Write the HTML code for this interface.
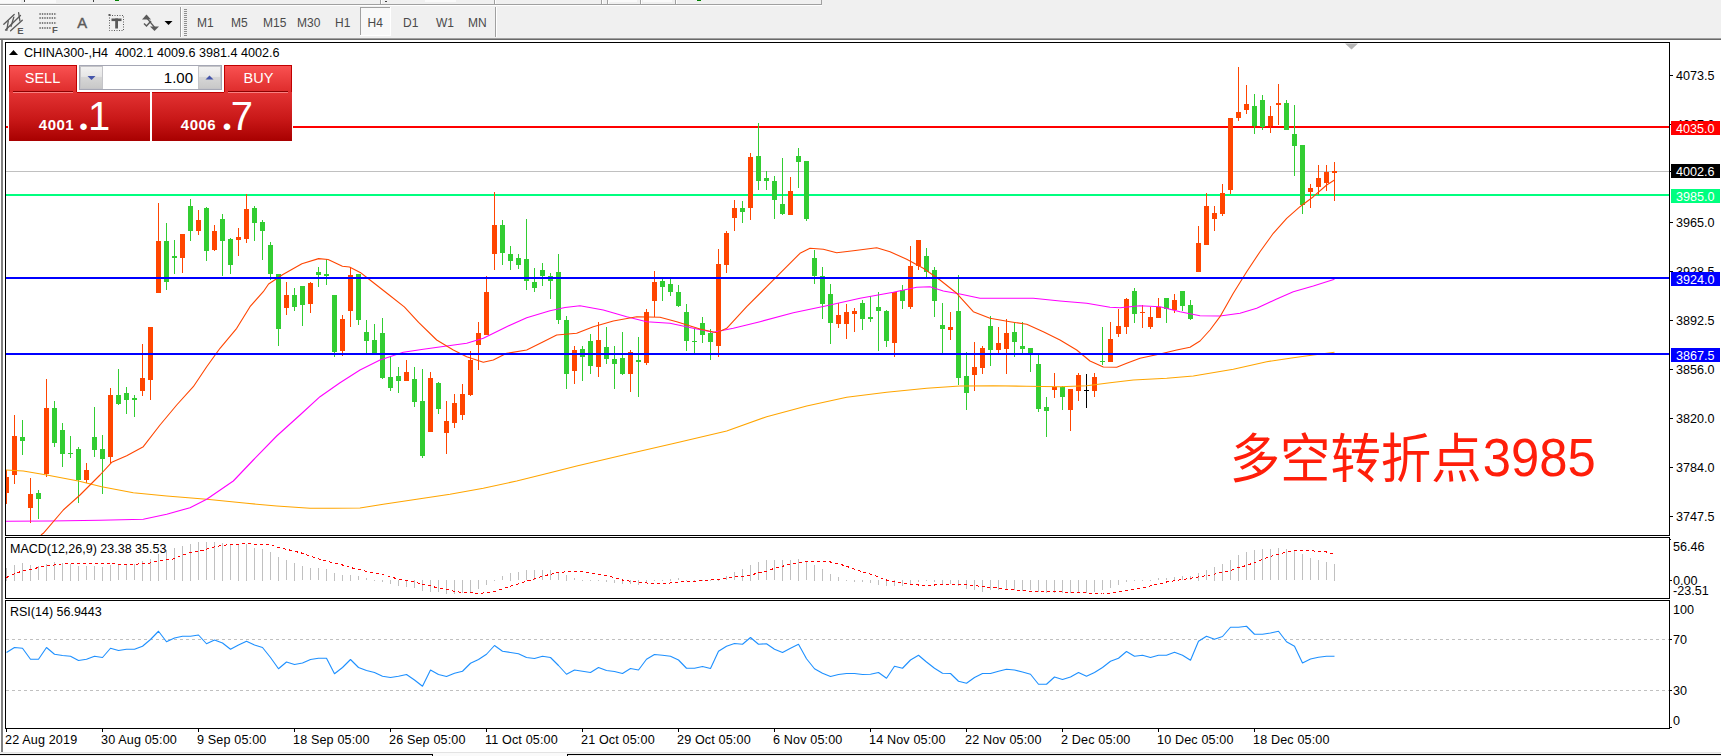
<!DOCTYPE html>
<html><head><meta charset="utf-8"><title>CHINA300 H4</title>
<style>
html,body{margin:0;padding:0;background:#fff;}
body{width:1721px;height:756px;overflow:hidden;position:relative;font-family:"Liberation Sans","Noto Sans CJK SC",sans-serif;}
svg{position:absolute;left:0;top:0;}
.t{position:absolute;white-space:nowrap;line-height:1.15;}
.b{position:absolute;left:1671px;width:49px;height:14px;color:#fff;font-size:12.6px;line-height:16px;text-indent:5px;white-space:nowrap;overflow:hidden;}
</style></head><body>
<svg width="1721" height="756" viewBox="0 0 1721 756">
<rect x="0" y="0" width="1721" height="40" fill="#F0F0F0"/>
<rect x="0" y="4" width="822" height="1" fill="#A0A0A0"/>
<rect x="0" y="5" width="822" height="1" fill="#FFFFFF"/>
<rect x="0" y="0" width="21" height="3" fill="#FAFAFA"/>
<rect x="24" y="0" width="32" height="3" fill="#FAFAFA"/>
<rect x="24" y="0" width="1" height="2" fill="#404040"/>
<rect x="93" y="0" width="1" height="2" fill="#404040"/>
<rect x="115" y="0" width="4" height="1" fill="#008000"/>
<rect x="380" y="0" width="1" height="4" fill="#A0A0A0"/>
<rect x="381" y="0" width="1" height="4" fill="#FFFFFF"/>
<rect x="494" y="0" width="1" height="4" fill="#A0A0A0"/>
<rect x="495" y="0" width="1" height="4" fill="#FFFFFF"/>
<rect x="601" y="0" width="1" height="4" fill="#A0A0A0"/>
<rect x="602" y="0" width="1" height="4" fill="#FFFFFF"/>
<rect x="607" y="0" width="1" height="4" fill="#A0A0A0"/>
<rect x="608" y="0" width="1" height="4" fill="#FFFFFF"/>
<rect x="640" y="0" width="1" height="4" fill="#A0A0A0"/>
<rect x="641" y="0" width="1" height="4" fill="#FFFFFF"/>
<rect x="675" y="0" width="1" height="4" fill="#A0A0A0"/>
<rect x="676" y="0" width="1" height="4" fill="#FFFFFF"/>
<rect x="425" y="0" width="31" height="2" fill="#FAFAFA"/>
<rect x="608" y="0" width="29" height="2" fill="#FAFAFA"/>
<rect x="643" y="0" width="29" height="2" fill="#FAFAFA"/>
<rect x="697" y="0" width="4" height="1" fill="#008000"/>
<rect x="385" y="1" width="2" height="1" fill="#404040"/>
<rect x="821" y="0" width="1" height="5" fill="#A0A0A0"/>
<rect x="0" y="38" width="1721" height="1" fill="#A0A0A0"/>
<rect x="0" y="39" width="1721" height="1" fill="#696969"/>
<rect x="1" y="40" width="2" height="712" fill="#808080"/>
<rect x="0" y="752" width="1721" height="1" fill="#E3E3E3"/>
<rect x="0" y="753" width="1721" height="3" fill="#F0F0F0"/>
<rect x="433" y="753" width="134" height="3" fill="#FAFAFA"/>
<rect x="0" y="754" width="432" height="1" fill="#000"/>
<rect x="567" y="754" width="1154" height="1" fill="#000"/>
<rect x="432" y="754" width="1" height="2" fill="#000"/>
<rect x="567" y="754" width="1" height="2" fill="#000"/>
<rect x="180" y="7" width="1" height="30" fill="#A0A0A0"/>
<rect x="181" y="7" width="1" height="30" fill="#FFFFFF"/>
<rect x="184" y="9" width="3" height="1" fill="#909090"/>
<rect x="184" y="11" width="3" height="1" fill="#909090"/>
<rect x="184" y="13" width="3" height="1" fill="#909090"/>
<rect x="184" y="15" width="3" height="1" fill="#909090"/>
<rect x="184" y="17" width="3" height="1" fill="#909090"/>
<rect x="184" y="19" width="3" height="1" fill="#909090"/>
<rect x="184" y="21" width="3" height="1" fill="#909090"/>
<rect x="184" y="23" width="3" height="1" fill="#909090"/>
<rect x="184" y="25" width="3" height="1" fill="#909090"/>
<rect x="184" y="27" width="3" height="1" fill="#909090"/>
<rect x="184" y="29" width="3" height="1" fill="#909090"/>
<rect x="184" y="31" width="3" height="1" fill="#909090"/>
<rect x="184" y="33" width="3" height="1" fill="#909090"/>
<rect x="184" y="35" width="3" height="1" fill="#909090"/>
<rect x="495" y="7" width="1" height="30" fill="#A0A0A0"/>
<rect x="496" y="7" width="1" height="30" fill="#FFFFFF"/>
<rect x="360" y="7" width="31" height="29" fill="#F8F8F8"/>
<rect x="360" y="7" width="31" height="1" fill="#A0A0A0"/>
<rect x="360" y="7" width="1" height="29" fill="#A0A0A0"/>
<rect x="390" y="7" width="1" height="29" fill="#FFFFFF"/>
<rect x="360" y="35" width="31" height="1" fill="#FFFFFF"/>
<g stroke="#5A5A5A" stroke-width="1.3" fill="none" stroke-linecap="round"><path d="M3.8 24.3 L14.2 14.5"/><path d="M5.5 30 L20.5 15.5"/><path d="M10.6 30.8 L22.3 20.2"/><path d="M8.3 20.8 L6.8 30.4"/><path d="M13.8 17.2 L11 26.5"/><path d="M18.6 12.6 L19.9 20.8"/></g>
<line x1="39.4" y1="14" x2="56.6" y2="14" stroke="#5A5A5A" stroke-width="1.6" stroke-dasharray="1.4 1.05"/>
<line x1="39.4" y1="18" x2="56.6" y2="18" stroke="#5A5A5A" stroke-width="1.6" stroke-dasharray="1.4 1.05"/>
<line x1="39.4" y1="23" x2="56.6" y2="23" stroke="#5A5A5A" stroke-width="1.6" stroke-dasharray="1.4 1.05"/>
<line x1="39.4" y1="28" x2="51.5" y2="28" stroke="#5A5A5A" stroke-width="1.6" stroke-dasharray="1.4 1.05"/>
<rect x="109.5" y="15.5" width="14" height="15" fill="none" stroke="#5A5A5A" stroke-width="1" stroke-dasharray="1 1.5"/>
<rect x="111.5" y="18.5" width="10" height="2.6" fill="#5A5A5A"/>
<rect x="115.2" y="18.5" width="2.8" height="10" fill="#5A5A5A"/>
<rect x="108.5" y="14" width="2" height="2" fill="#5A5A5A"/>
<path d="M142 19.5 L146.5 14.5 L151 19.5 Z" fill="#5A5A5A"/><path d="M150 26.5 L159 26.5 L154.5 31 Z" fill="#5A5A5A"/><path d="M144 23.5 L146.5 26 L151 21" stroke="#5A5A5A" stroke-width="1.5" fill="none"/><path d="M146 17 L155.5 28.5" stroke="#5A5A5A" stroke-width="1.2" fill="none"/>
<path d="M164.5 21 L172.5 21 L168.5 25 Z" fill="#000"/>
<g shape-rendering="crispEdges">
<rect x="5.5" y="42.5" width="1664" height="493" fill="#fff" stroke="#000" stroke-width="1"/>
<rect x="5.5" y="537.5" width="1664" height="61" fill="#fff" stroke="#000" stroke-width="1"/>
<rect x="5.5" y="600.5" width="1664" height="128" fill="#fff" stroke="#000" stroke-width="1"/>
</g>
<defs><clipPath id="cm"><rect x="6" y="43" width="1663" height="492"/></clipPath><linearGradient id="gs" x1="0" y1="0" x2="0" y2="1"><stop offset="0" stop-color="#FA5252"/><stop offset="1" stop-color="#DE2C2C"/></linearGradient><linearGradient id="gb" x1="0" y1="0" x2="0" y2="1"><stop offset="0" stop-color="#E33333"/><stop offset="0.55" stop-color="#C91818"/><stop offset="1" stop-color="#A80000"/></linearGradient><linearGradient id="gbtn" x1="0" y1="0" x2="0" y2="1"><stop offset="0" stop-color="#F2F2F2"/><stop offset="0.45" stop-color="#E6E6E6"/><stop offset="0.5" stop-color="#D6D6D6"/><stop offset="1" stop-color="#C8C8C8"/></linearGradient></defs>
<g clip-path="url(#cm)" shape-rendering="crispEdges">
<rect x="6" y="171" width="1663" height="1" fill="#C0C0C0"/>
<rect x="6" y="126" width="1663" height="2" fill="#FF0000"/>
<rect x="6" y="194" width="1663" height="2" fill="#00FF7F"/>
<rect x="6" y="470" width="1" height="34" fill="#FF4500"/>
<rect x="4" y="477" width="5" height="16" fill="#FF4500"/>
<rect x="14" y="415" width="1" height="69" fill="#FF4500"/>
<rect x="12" y="436" width="5" height="39" fill="#FF4500"/>
<rect x="22" y="420" width="1" height="35" fill="#32CD32"/>
<rect x="20" y="437" width="5" height="4" fill="#32CD32"/>
<rect x="30" y="478" width="1" height="45" fill="#FF4500"/>
<rect x="28" y="494" width="5" height="14" fill="#FF4500"/>
<rect x="38" y="490" width="1" height="29" fill="#32CD32"/>
<rect x="36" y="493" width="5" height="6" fill="#32CD32"/>
<rect x="46" y="379" width="1" height="98" fill="#FF4500"/>
<rect x="44" y="408" width="5" height="66" fill="#FF4500"/>
<rect x="54" y="401" width="1" height="46" fill="#32CD32"/>
<rect x="52" y="408" width="5" height="35" fill="#32CD32"/>
<rect x="62" y="423" width="1" height="44" fill="#32CD32"/>
<rect x="60" y="430" width="5" height="24" fill="#32CD32"/>
<rect x="70" y="436" width="1" height="22" fill="#32CD32"/>
<rect x="68" y="453" width="5" height="1" fill="#32CD32"/>
<rect x="78" y="447" width="1" height="56" fill="#32CD32"/>
<rect x="76" y="449" width="5" height="31" fill="#32CD32"/>
<rect x="86" y="463" width="1" height="20" fill="#FF4500"/>
<rect x="84" y="470" width="5" height="10" fill="#FF4500"/>
<rect x="94" y="407" width="1" height="50" fill="#32CD32"/>
<rect x="92" y="437" width="5" height="13" fill="#32CD32"/>
<rect x="102" y="435" width="1" height="59" fill="#32CD32"/>
<rect x="100" y="449" width="5" height="10" fill="#32CD32"/>
<rect x="110" y="388" width="1" height="75" fill="#FF4500"/>
<rect x="108" y="395" width="5" height="62" fill="#FF4500"/>
<rect x="118" y="369" width="1" height="36" fill="#32CD32"/>
<rect x="116" y="395" width="5" height="9" fill="#32CD32"/>
<rect x="126" y="387" width="1" height="27" fill="#32CD32"/>
<rect x="124" y="393" width="5" height="7" fill="#32CD32"/>
<rect x="134" y="395" width="1" height="22" fill="#32CD32"/>
<rect x="132" y="398" width="5" height="2" fill="#32CD32"/>
<rect x="142" y="344" width="1" height="52" fill="#FF4500"/>
<rect x="140" y="378" width="5" height="13" fill="#FF4500"/>
<rect x="150" y="327" width="1" height="73" fill="#FF4500"/>
<rect x="148" y="327" width="5" height="53" fill="#FF4500"/>
<rect x="158" y="203" width="1" height="90" fill="#FF4500"/>
<rect x="156" y="241" width="5" height="52" fill="#FF4500"/>
<rect x="166" y="223" width="1" height="67" fill="#32CD32"/>
<rect x="164" y="241" width="5" height="41" fill="#32CD32"/>
<rect x="174" y="240" width="1" height="34" fill="#32CD32"/>
<rect x="172" y="256" width="5" height="2" fill="#32CD32"/>
<rect x="182" y="234" width="1" height="39" fill="#FF4500"/>
<rect x="180" y="234" width="5" height="24" fill="#FF4500"/>
<rect x="190" y="199" width="1" height="42" fill="#32CD32"/>
<rect x="188" y="206" width="5" height="25" fill="#32CD32"/>
<rect x="198" y="210" width="1" height="25" fill="#FF4500"/>
<rect x="196" y="220" width="5" height="11" fill="#FF4500"/>
<rect x="206" y="207" width="1" height="54" fill="#32CD32"/>
<rect x="204" y="208" width="5" height="43" fill="#32CD32"/>
<rect x="214" y="225" width="1" height="26" fill="#FF4500"/>
<rect x="212" y="231" width="5" height="19" fill="#FF4500"/>
<rect x="222" y="214" width="1" height="62" fill="#32CD32"/>
<rect x="220" y="219" width="5" height="22" fill="#32CD32"/>
<rect x="230" y="238" width="1" height="36" fill="#32CD32"/>
<rect x="228" y="239" width="5" height="26" fill="#32CD32"/>
<rect x="238" y="228" width="1" height="28" fill="#FF4500"/>
<rect x="236" y="237" width="5" height="3" fill="#FF4500"/>
<rect x="246" y="194" width="1" height="49" fill="#FF4500"/>
<rect x="244" y="209" width="5" height="30" fill="#FF4500"/>
<rect x="254" y="206" width="1" height="35" fill="#32CD32"/>
<rect x="252" y="208" width="5" height="15" fill="#32CD32"/>
<rect x="262" y="220" width="1" height="40" fill="#32CD32"/>
<rect x="260" y="222" width="5" height="9" fill="#32CD32"/>
<rect x="270" y="242" width="1" height="38" fill="#32CD32"/>
<rect x="268" y="245" width="5" height="29" fill="#32CD32"/>
<rect x="278" y="274" width="1" height="72" fill="#32CD32"/>
<rect x="276" y="274" width="5" height="55" fill="#32CD32"/>
<rect x="286" y="282" width="1" height="33" fill="#FF4500"/>
<rect x="284" y="295" width="5" height="13" fill="#FF4500"/>
<rect x="294" y="288" width="1" height="23" fill="#32CD32"/>
<rect x="292" y="295" width="5" height="12" fill="#32CD32"/>
<rect x="302" y="286" width="1" height="40" fill="#32CD32"/>
<rect x="300" y="286" width="5" height="19" fill="#32CD32"/>
<rect x="310" y="282" width="1" height="31" fill="#FF4500"/>
<rect x="308" y="283" width="5" height="21" fill="#FF4500"/>
<rect x="318" y="267" width="1" height="20" fill="#32CD32"/>
<rect x="316" y="272" width="5" height="3" fill="#32CD32"/>
<rect x="326" y="259" width="1" height="26" fill="#32CD32"/>
<rect x="324" y="274" width="5" height="2" fill="#32CD32"/>
<rect x="334" y="295" width="1" height="62" fill="#32CD32"/>
<rect x="332" y="295" width="5" height="57" fill="#32CD32"/>
<rect x="342" y="315" width="1" height="41" fill="#FF4500"/>
<rect x="340" y="319" width="5" height="32" fill="#FF4500"/>
<rect x="350" y="268" width="1" height="59" fill="#FF4500"/>
<rect x="348" y="275" width="5" height="36" fill="#FF4500"/>
<rect x="358" y="274" width="1" height="51" fill="#32CD32"/>
<rect x="356" y="274" width="5" height="46" fill="#32CD32"/>
<rect x="366" y="320" width="1" height="35" fill="#32CD32"/>
<rect x="364" y="332" width="5" height="9" fill="#32CD32"/>
<rect x="374" y="324" width="1" height="30" fill="#32CD32"/>
<rect x="372" y="340" width="5" height="14" fill="#32CD32"/>
<rect x="382" y="318" width="1" height="61" fill="#32CD32"/>
<rect x="380" y="333" width="5" height="45" fill="#32CD32"/>
<rect x="390" y="356" width="1" height="35" fill="#32CD32"/>
<rect x="388" y="377" width="5" height="11" fill="#32CD32"/>
<rect x="398" y="367" width="1" height="26" fill="#32CD32"/>
<rect x="396" y="376" width="5" height="5" fill="#32CD32"/>
<rect x="406" y="360" width="1" height="21" fill="#FF4500"/>
<rect x="404" y="372" width="5" height="9" fill="#FF4500"/>
<rect x="414" y="367" width="1" height="40" fill="#32CD32"/>
<rect x="412" y="379" width="5" height="23" fill="#32CD32"/>
<rect x="422" y="369" width="1" height="89" fill="#32CD32"/>
<rect x="420" y="401" width="5" height="55" fill="#32CD32"/>
<rect x="430" y="372" width="1" height="60" fill="#FF4500"/>
<rect x="428" y="378" width="5" height="54" fill="#FF4500"/>
<rect x="438" y="382" width="1" height="32" fill="#32CD32"/>
<rect x="436" y="383" width="5" height="26" fill="#32CD32"/>
<rect x="446" y="401" width="1" height="53" fill="#FF4500"/>
<rect x="444" y="421" width="5" height="12" fill="#FF4500"/>
<rect x="454" y="394" width="1" height="34" fill="#FF4500"/>
<rect x="452" y="403" width="5" height="20" fill="#FF4500"/>
<rect x="462" y="384" width="1" height="36" fill="#FF4500"/>
<rect x="460" y="394" width="5" height="21" fill="#FF4500"/>
<rect x="470" y="351" width="1" height="45" fill="#FF4500"/>
<rect x="468" y="360" width="5" height="35" fill="#FF4500"/>
<rect x="478" y="322" width="1" height="48" fill="#FF4500"/>
<rect x="476" y="333" width="5" height="12" fill="#FF4500"/>
<rect x="486" y="276" width="1" height="59" fill="#FF4500"/>
<rect x="484" y="292" width="5" height="43" fill="#FF4500"/>
<rect x="494" y="192" width="1" height="78" fill="#FF4500"/>
<rect x="492" y="225" width="5" height="29" fill="#FF4500"/>
<rect x="502" y="220" width="1" height="45" fill="#32CD32"/>
<rect x="500" y="225" width="5" height="28" fill="#32CD32"/>
<rect x="510" y="246" width="1" height="24" fill="#32CD32"/>
<rect x="508" y="254" width="5" height="7" fill="#32CD32"/>
<rect x="518" y="254" width="1" height="15" fill="#32CD32"/>
<rect x="516" y="258" width="5" height="7" fill="#32CD32"/>
<rect x="526" y="219" width="1" height="71" fill="#32CD32"/>
<rect x="524" y="259" width="5" height="22" fill="#32CD32"/>
<rect x="534" y="268" width="1" height="24" fill="#32CD32"/>
<rect x="532" y="282" width="5" height="6" fill="#32CD32"/>
<rect x="542" y="263" width="1" height="23" fill="#32CD32"/>
<rect x="540" y="270" width="5" height="6" fill="#32CD32"/>
<rect x="550" y="273" width="1" height="26" fill="#32CD32"/>
<rect x="548" y="276" width="5" height="5" fill="#32CD32"/>
<rect x="558" y="254" width="1" height="70" fill="#32CD32"/>
<rect x="556" y="272" width="5" height="48" fill="#32CD32"/>
<rect x="566" y="316" width="1" height="73" fill="#32CD32"/>
<rect x="564" y="320" width="5" height="54" fill="#32CD32"/>
<rect x="574" y="346" width="1" height="38" fill="#FF4500"/>
<rect x="572" y="350" width="5" height="21" fill="#FF4500"/>
<rect x="582" y="346" width="1" height="35" fill="#32CD32"/>
<rect x="580" y="349" width="5" height="8" fill="#32CD32"/>
<rect x="590" y="334" width="1" height="40" fill="#32CD32"/>
<rect x="588" y="341" width="5" height="25" fill="#32CD32"/>
<rect x="598" y="322" width="1" height="55" fill="#FF4500"/>
<rect x="596" y="340" width="5" height="27" fill="#FF4500"/>
<rect x="606" y="327" width="1" height="37" fill="#32CD32"/>
<rect x="604" y="347" width="5" height="12" fill="#32CD32"/>
<rect x="614" y="346" width="1" height="43" fill="#32CD32"/>
<rect x="612" y="359" width="5" height="5" fill="#32CD32"/>
<rect x="622" y="332" width="1" height="43" fill="#32CD32"/>
<rect x="620" y="358" width="5" height="16" fill="#32CD32"/>
<rect x="630" y="350" width="1" height="42" fill="#FF4500"/>
<rect x="628" y="352" width="5" height="22" fill="#FF4500"/>
<rect x="638" y="337" width="1" height="60" fill="#32CD32"/>
<rect x="636" y="360" width="5" height="2" fill="#32CD32"/>
<rect x="646" y="309" width="1" height="56" fill="#FF4500"/>
<rect x="644" y="312" width="5" height="51" fill="#FF4500"/>
<rect x="654" y="271" width="1" height="46" fill="#FF4500"/>
<rect x="652" y="282" width="5" height="19" fill="#FF4500"/>
<rect x="662" y="278" width="1" height="23" fill="#32CD32"/>
<rect x="660" y="281" width="5" height="6" fill="#32CD32"/>
<rect x="670" y="279" width="1" height="17" fill="#32CD32"/>
<rect x="668" y="284" width="5" height="8" fill="#32CD32"/>
<rect x="678" y="285" width="1" height="22" fill="#32CD32"/>
<rect x="676" y="292" width="5" height="14" fill="#32CD32"/>
<rect x="686" y="304" width="1" height="47" fill="#32CD32"/>
<rect x="684" y="312" width="5" height="29" fill="#32CD32"/>
<rect x="694" y="328" width="1" height="25" fill="#32CD32"/>
<rect x="692" y="341" width="5" height="1" fill="#32CD32"/>
<rect x="702" y="317" width="1" height="26" fill="#32CD32"/>
<rect x="700" y="323" width="5" height="12" fill="#32CD32"/>
<rect x="710" y="329" width="1" height="31" fill="#32CD32"/>
<rect x="708" y="333" width="5" height="9" fill="#32CD32"/>
<rect x="718" y="249" width="1" height="108" fill="#FF4500"/>
<rect x="716" y="264" width="5" height="82" fill="#FF4500"/>
<rect x="726" y="231" width="1" height="42" fill="#FF4500"/>
<rect x="724" y="233" width="5" height="32" fill="#FF4500"/>
<rect x="734" y="200" width="1" height="31" fill="#FF4500"/>
<rect x="732" y="208" width="5" height="10" fill="#FF4500"/>
<rect x="742" y="201" width="1" height="22" fill="#32CD32"/>
<rect x="740" y="208" width="5" height="4" fill="#32CD32"/>
<rect x="750" y="153" width="1" height="67" fill="#FF4500"/>
<rect x="748" y="157" width="5" height="51" fill="#FF4500"/>
<rect x="758" y="123" width="1" height="67" fill="#32CD32"/>
<rect x="756" y="156" width="5" height="25" fill="#32CD32"/>
<rect x="766" y="171" width="1" height="19" fill="#32CD32"/>
<rect x="764" y="178" width="5" height="3" fill="#32CD32"/>
<rect x="774" y="176" width="1" height="43" fill="#32CD32"/>
<rect x="772" y="181" width="5" height="19" fill="#32CD32"/>
<rect x="782" y="158" width="1" height="57" fill="#32CD32"/>
<rect x="780" y="204" width="5" height="10" fill="#32CD32"/>
<rect x="790" y="177" width="1" height="38" fill="#FF4500"/>
<rect x="788" y="191" width="5" height="24" fill="#FF4500"/>
<rect x="798" y="148" width="1" height="40" fill="#32CD32"/>
<rect x="796" y="156" width="5" height="6" fill="#32CD32"/>
<rect x="806" y="161" width="1" height="60" fill="#32CD32"/>
<rect x="804" y="161" width="5" height="58" fill="#32CD32"/>
<rect x="814" y="250" width="1" height="34" fill="#32CD32"/>
<rect x="812" y="258" width="5" height="18" fill="#32CD32"/>
<rect x="822" y="267" width="1" height="52" fill="#32CD32"/>
<rect x="820" y="276" width="5" height="28" fill="#32CD32"/>
<rect x="830" y="284" width="1" height="60" fill="#32CD32"/>
<rect x="828" y="294" width="5" height="29" fill="#32CD32"/>
<rect x="838" y="303" width="1" height="25" fill="#FF4500"/>
<rect x="836" y="315" width="5" height="9" fill="#FF4500"/>
<rect x="846" y="304" width="1" height="35" fill="#FF4500"/>
<rect x="844" y="312" width="5" height="12" fill="#FF4500"/>
<rect x="854" y="308" width="1" height="24" fill="#FF4500"/>
<rect x="852" y="311" width="5" height="3" fill="#FF4500"/>
<rect x="862" y="300" width="1" height="30" fill="#32CD32"/>
<rect x="860" y="303" width="5" height="16" fill="#32CD32"/>
<rect x="870" y="296" width="1" height="26" fill="#32CD32"/>
<rect x="868" y="317" width="5" height="2" fill="#32CD32"/>
<rect x="878" y="292" width="1" height="59" fill="#32CD32"/>
<rect x="876" y="307" width="5" height="4" fill="#32CD32"/>
<rect x="886" y="310" width="1" height="37" fill="#32CD32"/>
<rect x="884" y="311" width="5" height="30" fill="#32CD32"/>
<rect x="894" y="292" width="1" height="65" fill="#FF4500"/>
<rect x="892" y="292" width="5" height="51" fill="#FF4500"/>
<rect x="902" y="285" width="1" height="24" fill="#32CD32"/>
<rect x="900" y="290" width="5" height="11" fill="#32CD32"/>
<rect x="910" y="246" width="1" height="63" fill="#FF4500"/>
<rect x="908" y="266" width="5" height="41" fill="#FF4500"/>
<rect x="918" y="240" width="1" height="30" fill="#FF4500"/>
<rect x="916" y="240" width="5" height="26" fill="#FF4500"/>
<rect x="926" y="248" width="1" height="30" fill="#32CD32"/>
<rect x="924" y="256" width="5" height="16" fill="#32CD32"/>
<rect x="934" y="267" width="1" height="50" fill="#32CD32"/>
<rect x="932" y="270" width="5" height="31" fill="#32CD32"/>
<rect x="942" y="303" width="1" height="50" fill="#32CD32"/>
<rect x="940" y="325" width="5" height="4" fill="#32CD32"/>
<rect x="950" y="312" width="1" height="28" fill="#FF4500"/>
<rect x="948" y="327" width="5" height="3" fill="#FF4500"/>
<rect x="958" y="275" width="1" height="110" fill="#32CD32"/>
<rect x="956" y="311" width="5" height="67" fill="#32CD32"/>
<rect x="966" y="352" width="1" height="58" fill="#32CD32"/>
<rect x="964" y="376" width="5" height="17" fill="#32CD32"/>
<rect x="974" y="342" width="1" height="49" fill="#FF4500"/>
<rect x="972" y="367" width="5" height="8" fill="#FF4500"/>
<rect x="982" y="346" width="1" height="28" fill="#FF4500"/>
<rect x="980" y="348" width="5" height="20" fill="#FF4500"/>
<rect x="990" y="316" width="1" height="50" fill="#32CD32"/>
<rect x="988" y="326" width="5" height="24" fill="#32CD32"/>
<rect x="998" y="327" width="1" height="27" fill="#FF4500"/>
<rect x="996" y="343" width="5" height="7" fill="#FF4500"/>
<rect x="1006" y="319" width="1" height="55" fill="#FF4500"/>
<rect x="1004" y="333" width="5" height="16" fill="#FF4500"/>
<rect x="1014" y="323" width="1" height="34" fill="#32CD32"/>
<rect x="1012" y="332" width="5" height="10" fill="#32CD32"/>
<rect x="1022" y="322" width="1" height="33" fill="#32CD32"/>
<rect x="1020" y="346" width="5" height="3" fill="#32CD32"/>
<rect x="1030" y="348" width="1" height="24" fill="#32CD32"/>
<rect x="1028" y="348" width="5" height="7" fill="#32CD32"/>
<rect x="1038" y="353" width="1" height="59" fill="#32CD32"/>
<rect x="1036" y="364" width="5" height="45" fill="#32CD32"/>
<rect x="1046" y="397" width="1" height="40" fill="#32CD32"/>
<rect x="1044" y="407" width="5" height="4" fill="#32CD32"/>
<rect x="1054" y="373" width="1" height="25" fill="#FF4500"/>
<rect x="1052" y="387" width="5" height="3" fill="#FF4500"/>
<rect x="1062" y="386" width="1" height="24" fill="#32CD32"/>
<rect x="1060" y="387" width="5" height="10" fill="#32CD32"/>
<rect x="1070" y="389" width="1" height="42" fill="#FF4500"/>
<rect x="1068" y="389" width="5" height="21" fill="#FF4500"/>
<rect x="1078" y="373" width="1" height="28" fill="#FF4500"/>
<rect x="1076" y="375" width="5" height="16" fill="#FF4500"/>
<rect x="1086" y="374" width="1" height="34" fill="#000"/>
<rect x="1084" y="390" width="5" height="1" fill="#000"/>
<rect x="1094" y="373" width="1" height="24" fill="#FF4500"/>
<rect x="1092" y="377" width="5" height="14" fill="#FF4500"/>
<rect x="1102" y="327" width="1" height="38" fill="#32CD32"/>
<rect x="1100" y="361" width="5" height="1" fill="#32CD32"/>
<rect x="1110" y="322" width="1" height="40" fill="#FF4500"/>
<rect x="1108" y="339" width="5" height="23" fill="#FF4500"/>
<rect x="1118" y="309" width="1" height="28" fill="#FF4500"/>
<rect x="1116" y="326" width="5" height="8" fill="#FF4500"/>
<rect x="1126" y="298" width="1" height="36" fill="#FF4500"/>
<rect x="1124" y="299" width="5" height="28" fill="#FF4500"/>
<rect x="1134" y="288" width="1" height="35" fill="#32CD32"/>
<rect x="1132" y="291" width="5" height="23" fill="#32CD32"/>
<rect x="1142" y="305" width="1" height="23" fill="#FF4500"/>
<rect x="1140" y="312" width="5" height="1" fill="#FF4500"/>
<rect x="1150" y="307" width="1" height="22" fill="#FF4500"/>
<rect x="1148" y="317" width="5" height="10" fill="#FF4500"/>
<rect x="1158" y="298" width="1" height="20" fill="#FF4500"/>
<rect x="1156" y="307" width="5" height="11" fill="#FF4500"/>
<rect x="1166" y="298" width="1" height="25" fill="#32CD32"/>
<rect x="1164" y="298" width="5" height="11" fill="#32CD32"/>
<rect x="1174" y="294" width="1" height="19" fill="#FF4500"/>
<rect x="1172" y="300" width="5" height="10" fill="#FF4500"/>
<rect x="1182" y="291" width="1" height="20" fill="#32CD32"/>
<rect x="1180" y="291" width="5" height="15" fill="#32CD32"/>
<rect x="1190" y="300" width="1" height="20" fill="#32CD32"/>
<rect x="1188" y="305" width="5" height="14" fill="#32CD32"/>
<rect x="1198" y="226" width="1" height="46" fill="#FF4500"/>
<rect x="1196" y="243" width="5" height="29" fill="#FF4500"/>
<rect x="1206" y="193" width="1" height="52" fill="#FF4500"/>
<rect x="1204" y="206" width="5" height="39" fill="#FF4500"/>
<rect x="1214" y="206" width="1" height="25" fill="#FF4500"/>
<rect x="1212" y="213" width="5" height="6" fill="#FF4500"/>
<rect x="1222" y="184" width="1" height="32" fill="#FF4500"/>
<rect x="1220" y="193" width="5" height="21" fill="#FF4500"/>
<rect x="1230" y="118" width="1" height="76" fill="#FF4500"/>
<rect x="1228" y="118" width="5" height="72" fill="#FF4500"/>
<rect x="1238" y="67" width="1" height="54" fill="#FF4500"/>
<rect x="1236" y="112" width="5" height="6" fill="#FF4500"/>
<rect x="1246" y="85" width="1" height="29" fill="#FF4500"/>
<rect x="1244" y="104" width="5" height="6" fill="#FF4500"/>
<rect x="1254" y="94" width="1" height="40" fill="#32CD32"/>
<rect x="1252" y="106" width="5" height="20" fill="#32CD32"/>
<rect x="1262" y="95" width="1" height="35" fill="#32CD32"/>
<rect x="1260" y="100" width="5" height="27" fill="#32CD32"/>
<rect x="1270" y="106" width="1" height="27" fill="#FF4500"/>
<rect x="1268" y="116" width="5" height="10" fill="#FF4500"/>
<rect x="1278" y="84" width="1" height="41" fill="#FF4500"/>
<rect x="1276" y="103" width="5" height="2" fill="#FF4500"/>
<rect x="1286" y="100" width="1" height="30" fill="#32CD32"/>
<rect x="1284" y="103" width="5" height="27" fill="#32CD32"/>
<rect x="1294" y="105" width="1" height="71" fill="#32CD32"/>
<rect x="1292" y="134" width="5" height="12" fill="#32CD32"/>
<rect x="1302" y="145" width="1" height="69" fill="#32CD32"/>
<rect x="1300" y="145" width="5" height="60" fill="#32CD32"/>
<rect x="1310" y="184" width="1" height="24" fill="#FF4500"/>
<rect x="1308" y="188" width="5" height="4" fill="#FF4500"/>
<rect x="1318" y="165" width="1" height="30" fill="#FF4500"/>
<rect x="1316" y="178" width="5" height="9" fill="#FF4500"/>
<rect x="1326" y="165" width="1" height="26" fill="#FF4500"/>
<rect x="1324" y="172" width="5" height="11" fill="#FF4500"/>
<rect x="1334" y="162" width="1" height="39" fill="#FF4500"/>
<rect x="1332" y="171" width="5" height="2" fill="#FF4500"/>
</g>
<g clip-path="url(#cm)">
<polyline fill="none" stroke="#FFA500" stroke-width="1.1" points="6,470 23.3,471 46.7,475 78.3,481 101.7,486.7 133.3,492.7 166.7,496 206.7,499.3 246.7,503.3 276.7,506 310,508.3 333.3,508.3 360,508 383.3,504.3 416.7,499.3 450,494.3 483.3,488.3 516.7,481 550,472.7 576.7,466 626.7,454.3 676.7,442.7 726.7,431 766.7,416.7 806.7,406 846.7,397.3 886.7,392.3 926.7,388.3 960,386 993.3,385.7 1026.7,386.3 1060,386.7 1086.7,385.7 1110,382.7 1133.3,380 1166.7,378.3 1193.3,376 1233.3,369.3 1266.7,361.7 1293.3,357.7 1313.3,355 1334.5,352.3" stroke-linejoin="round"/>
<polyline fill="none" stroke="#FF00FF" stroke-width="1.1" points="6,521.3 50,521 100,520.3 143.3,519.3 166.7,514.3 190,507.7 206.7,499.3 233.3,481 253.3,460 276.7,436 300,415 320,396.7 340,382.7 360,370 380,360 403.3,352.3 423.3,349.3 446.7,346 466.7,343.3 483.3,338.3 506.7,326.7 526.7,317.7 550,310.7 565,307.5 580,305.7 603.3,310 626.7,316.7 646.7,321.7 670,323.3 693.3,328.3 713.3,332.3 733.3,328.3 760,321.7 793.3,312.7 826.7,305.7 860,298.3 893.3,292.3 916.7,287.3 930,286.7 943.3,291 960,294 980,298.3 1010,298.3 1033.3,298.3 1060,301 1086.7,303.3 1110,307.3 1120,307.7 1140,305.7 1160,306.7 1180,311.7 1200,315.7 1220,316 1240,313.3 1256.7,308.3 1276.7,299 1293.3,291.7 1313.3,286 1334.5,279.3" stroke-linejoin="round"/>
<polyline fill="none" stroke="#FF4500" stroke-width="1.1" points="41,535 43.3,533.3 63.3,510 80,495 100,475 111.7,462.3 126.7,455.7 143.3,446.7 160,425 176.7,405 193.3,386.7 206.7,366.7 220,348.3 236.7,328.3 250,306.7 263.3,291.7 268.6,284 282.9,274.5 301.9,263.8 318.6,258.6 328.1,259.5 342.4,266.2 349.5,267 360.2,272.4 371,280.7 387.6,293.8 404.3,306.9 418.6,322.4 436.7,340 453.3,350 466.7,356.7 483.3,362.3 493.3,360 506.7,353.3 526.7,350 543.3,341.7 556.7,335 576.7,333.3 593.3,326.7 613.3,321 636.7,316.7 660,317.3 676.7,321.7 700,329 716.7,332.7 726.7,328.3 746.7,306.7 766.7,286.7 786.7,266.7 800,253.3 810,248.3 823.3,249.3 836.7,252.7 853.3,250.7 876.7,247.7 890,251.7 906.7,259.3 923.3,268.3 940,280 956.7,293.3 973.3,311.7 990,318.3 1010,321.7 1026.7,324.3 1043.3,331.7 1060,340 1076.7,350 1090,361 1103.3,367 1116.7,367.3 1126.7,363.3 1140,358.3 1160,354 1176.7,350 1190,347.3 1200,341 1210,330 1220,316.7 1233.3,293.3 1246.7,271.7 1260,251.7 1273.3,233.3 1286.7,218.3 1300,206.7 1313.3,196.7 1326.7,185 1334.5,180" stroke-linejoin="round"/>
</g>
<g clip-path="url(#cm)" shape-rendering="crispEdges">
<rect x="6" y="277" width="1663" height="2" fill="#0000FF"/>
<rect x="6" y="353" width="1663" height="2" fill="#0000FF"/>
</g>
<path d="M1345 43.5 L1358 43.5 L1351.5 49.5 Z" fill="#B4B4B4"/>
<g shape-rendering="crispEdges">
<rect x="6" y="568" width="1" height="13" fill="#C0C0C0"/>
<rect x="14" y="565" width="1" height="16" fill="#C0C0C0"/>
<rect x="22" y="563" width="1" height="18" fill="#C0C0C0"/>
<rect x="30" y="565" width="1" height="16" fill="#C0C0C0"/>
<rect x="38" y="566" width="1" height="14" fill="#C0C0C0"/>
<rect x="46" y="564" width="1" height="17" fill="#C0C0C0"/>
<rect x="54" y="562" width="1" height="18" fill="#C0C0C0"/>
<rect x="62" y="563" width="1" height="18" fill="#C0C0C0"/>
<rect x="70" y="564" width="1" height="17" fill="#C0C0C0"/>
<rect x="78" y="566" width="1" height="15" fill="#C0C0C0"/>
<rect x="86" y="566" width="1" height="14" fill="#C0C0C0"/>
<rect x="94" y="566" width="1" height="14" fill="#C0C0C0"/>
<rect x="102" y="567" width="1" height="14" fill="#C0C0C0"/>
<rect x="110" y="565" width="1" height="16" fill="#C0C0C0"/>
<rect x="118" y="564" width="1" height="16" fill="#C0C0C0"/>
<rect x="126" y="564" width="1" height="16" fill="#C0C0C0"/>
<rect x="134" y="564" width="1" height="16" fill="#C0C0C0"/>
<rect x="142" y="561" width="1" height="20" fill="#C0C0C0"/>
<rect x="150" y="559" width="1" height="22" fill="#C0C0C0"/>
<rect x="158" y="554" width="1" height="27" fill="#C0C0C0"/>
<rect x="166" y="550" width="1" height="30" fill="#C0C0C0"/>
<rect x="174" y="548" width="1" height="32" fill="#C0C0C0"/>
<rect x="182" y="546" width="1" height="35" fill="#C0C0C0"/>
<rect x="190" y="544" width="1" height="37" fill="#C0C0C0"/>
<rect x="198" y="542" width="1" height="38" fill="#C0C0C0"/>
<rect x="206" y="542" width="1" height="38" fill="#C0C0C0"/>
<rect x="214" y="542" width="1" height="38" fill="#C0C0C0"/>
<rect x="222" y="543" width="1" height="38" fill="#C0C0C0"/>
<rect x="230" y="544" width="1" height="36" fill="#C0C0C0"/>
<rect x="238" y="545" width="1" height="36" fill="#C0C0C0"/>
<rect x="246" y="544" width="1" height="37" fill="#C0C0C0"/>
<rect x="254" y="548" width="1" height="32" fill="#C0C0C0"/>
<rect x="262" y="549" width="1" height="32" fill="#C0C0C0"/>
<rect x="270" y="552" width="1" height="28" fill="#C0C0C0"/>
<rect x="278" y="557" width="1" height="24" fill="#C0C0C0"/>
<rect x="286" y="560" width="1" height="20" fill="#C0C0C0"/>
<rect x="294" y="563" width="1" height="18" fill="#C0C0C0"/>
<rect x="302" y="566" width="1" height="14" fill="#C0C0C0"/>
<rect x="310" y="568" width="1" height="12" fill="#C0C0C0"/>
<rect x="318" y="568" width="1" height="12" fill="#C0C0C0"/>
<rect x="326" y="569" width="1" height="12" fill="#C0C0C0"/>
<rect x="334" y="573" width="1" height="8" fill="#C0C0C0"/>
<rect x="342" y="575" width="1" height="6" fill="#C0C0C0"/>
<rect x="350" y="575" width="1" height="6" fill="#C0C0C0"/>
<rect x="358" y="576" width="1" height="4" fill="#C0C0C0"/>
<rect x="366" y="578" width="1" height="2" fill="#C0C0C0"/>
<rect x="374" y="580" width="1" height="1" fill="#C0C0C0"/>
<rect x="382" y="580" width="1" height="2" fill="#C0C0C0"/>
<rect x="390" y="580" width="1" height="4" fill="#C0C0C0"/>
<rect x="398" y="580" width="1" height="6" fill="#C0C0C0"/>
<rect x="406" y="580" width="1" height="7" fill="#C0C0C0"/>
<rect x="414" y="580" width="1" height="8" fill="#C0C0C0"/>
<rect x="422" y="580" width="1" height="11" fill="#C0C0C0"/>
<rect x="430" y="580" width="1" height="12" fill="#C0C0C0"/>
<rect x="438" y="580" width="1" height="12" fill="#C0C0C0"/>
<rect x="446" y="580" width="1" height="14" fill="#C0C0C0"/>
<rect x="454" y="580" width="1" height="14" fill="#C0C0C0"/>
<rect x="462" y="580" width="1" height="13" fill="#C0C0C0"/>
<rect x="470" y="580" width="1" height="12" fill="#C0C0C0"/>
<rect x="478" y="580" width="1" height="9" fill="#C0C0C0"/>
<rect x="486" y="580" width="1" height="5" fill="#C0C0C0"/>
<rect x="494" y="580" width="1" height="1" fill="#C0C0C0"/>
<rect x="502" y="576" width="1" height="4" fill="#C0C0C0"/>
<rect x="510" y="573" width="1" height="8" fill="#C0C0C0"/>
<rect x="518" y="572" width="1" height="8" fill="#C0C0C0"/>
<rect x="526" y="570" width="1" height="10" fill="#C0C0C0"/>
<rect x="534" y="570" width="1" height="10" fill="#C0C0C0"/>
<rect x="542" y="570" width="1" height="10" fill="#C0C0C0"/>
<rect x="550" y="570" width="1" height="10" fill="#C0C0C0"/>
<rect x="558" y="572" width="1" height="8" fill="#C0C0C0"/>
<rect x="566" y="575" width="1" height="6" fill="#C0C0C0"/>
<rect x="574" y="578" width="1" height="2" fill="#C0C0C0"/>
<rect x="582" y="580" width="1" height="1" fill="#C0C0C0"/>
<rect x="590" y="580" width="1" height="1" fill="#C0C0C0"/>
<rect x="598" y="580" width="1" height="1" fill="#C0C0C0"/>
<rect x="606" y="580" width="1" height="2" fill="#C0C0C0"/>
<rect x="614" y="580" width="1" height="3" fill="#C0C0C0"/>
<rect x="622" y="580" width="1" height="4" fill="#C0C0C0"/>
<rect x="630" y="580" width="1" height="4" fill="#C0C0C0"/>
<rect x="638" y="580" width="1" height="5" fill="#C0C0C0"/>
<rect x="646" y="580" width="1" height="3" fill="#C0C0C0"/>
<rect x="654" y="580" width="1" height="1" fill="#C0C0C0"/>
<rect x="662" y="580" width="1" height="1" fill="#C0C0C0"/>
<rect x="670" y="579" width="1" height="2" fill="#C0C0C0"/>
<rect x="678" y="578" width="1" height="2" fill="#C0C0C0"/>
<rect x="686" y="580" width="1" height="1" fill="#C0C0C0"/>
<rect x="694" y="580" width="1" height="1" fill="#C0C0C0"/>
<rect x="702" y="580" width="1" height="1" fill="#C0C0C0"/>
<rect x="710" y="580" width="1" height="1" fill="#C0C0C0"/>
<rect x="718" y="580" width="1" height="1" fill="#C0C0C0"/>
<rect x="726" y="576" width="1" height="4" fill="#C0C0C0"/>
<rect x="734" y="572" width="1" height="8" fill="#C0C0C0"/>
<rect x="742" y="569" width="1" height="12" fill="#C0C0C0"/>
<rect x="750" y="565" width="1" height="16" fill="#C0C0C0"/>
<rect x="758" y="562" width="1" height="18" fill="#C0C0C0"/>
<rect x="766" y="560" width="1" height="20" fill="#C0C0C0"/>
<rect x="774" y="560" width="1" height="20" fill="#C0C0C0"/>
<rect x="782" y="560" width="1" height="21" fill="#C0C0C0"/>
<rect x="790" y="560" width="1" height="20" fill="#C0C0C0"/>
<rect x="798" y="559" width="1" height="22" fill="#C0C0C0"/>
<rect x="806" y="561" width="1" height="19" fill="#C0C0C0"/>
<rect x="814" y="565" width="1" height="16" fill="#C0C0C0"/>
<rect x="822" y="569" width="1" height="12" fill="#C0C0C0"/>
<rect x="830" y="574" width="1" height="7" fill="#C0C0C0"/>
<rect x="838" y="577" width="1" height="4" fill="#C0C0C0"/>
<rect x="846" y="580" width="1" height="1" fill="#C0C0C0"/>
<rect x="854" y="580" width="1" height="2" fill="#C0C0C0"/>
<rect x="862" y="580" width="1" height="2" fill="#C0C0C0"/>
<rect x="870" y="580" width="1" height="3" fill="#C0C0C0"/>
<rect x="878" y="580" width="1" height="5" fill="#C0C0C0"/>
<rect x="886" y="580" width="1" height="6" fill="#C0C0C0"/>
<rect x="894" y="580" width="1" height="6" fill="#C0C0C0"/>
<rect x="902" y="580" width="1" height="6" fill="#C0C0C0"/>
<rect x="910" y="580" width="1" height="4" fill="#C0C0C0"/>
<rect x="918" y="580" width="1" height="2" fill="#C0C0C0"/>
<rect x="926" y="580" width="1" height="1" fill="#C0C0C0"/>
<rect x="934" y="580" width="1" height="2" fill="#C0C0C0"/>
<rect x="942" y="580" width="1" height="4" fill="#C0C0C0"/>
<rect x="950" y="580" width="1" height="4" fill="#C0C0C0"/>
<rect x="958" y="580" width="1" height="6" fill="#C0C0C0"/>
<rect x="966" y="580" width="1" height="9" fill="#C0C0C0"/>
<rect x="974" y="580" width="1" height="10" fill="#C0C0C0"/>
<rect x="982" y="580" width="1" height="12" fill="#C0C0C0"/>
<rect x="990" y="580" width="1" height="10" fill="#C0C0C0"/>
<rect x="998" y="580" width="1" height="10" fill="#C0C0C0"/>
<rect x="1006" y="580" width="1" height="10" fill="#C0C0C0"/>
<rect x="1014" y="580" width="1" height="10" fill="#C0C0C0"/>
<rect x="1022" y="580" width="1" height="11" fill="#C0C0C0"/>
<rect x="1030" y="580" width="1" height="10" fill="#C0C0C0"/>
<rect x="1038" y="580" width="1" height="12" fill="#C0C0C0"/>
<rect x="1046" y="580" width="1" height="13" fill="#C0C0C0"/>
<rect x="1054" y="580" width="1" height="13" fill="#C0C0C0"/>
<rect x="1062" y="580" width="1" height="13" fill="#C0C0C0"/>
<rect x="1070" y="580" width="1" height="13" fill="#C0C0C0"/>
<rect x="1078" y="580" width="1" height="13" fill="#C0C0C0"/>
<rect x="1086" y="580" width="1" height="13" fill="#C0C0C0"/>
<rect x="1094" y="580" width="1" height="12" fill="#C0C0C0"/>
<rect x="1102" y="580" width="1" height="10" fill="#C0C0C0"/>
<rect x="1110" y="580" width="1" height="8" fill="#C0C0C0"/>
<rect x="1118" y="580" width="1" height="5" fill="#C0C0C0"/>
<rect x="1126" y="580" width="1" height="2" fill="#C0C0C0"/>
<rect x="1134" y="580" width="1" height="1" fill="#C0C0C0"/>
<rect x="1142" y="580" width="1" height="1" fill="#C0C0C0"/>
<rect x="1150" y="580" width="1" height="1" fill="#C0C0C0"/>
<rect x="1158" y="578" width="1" height="2" fill="#C0C0C0"/>
<rect x="1166" y="578" width="1" height="2" fill="#C0C0C0"/>
<rect x="1174" y="577" width="1" height="4" fill="#C0C0C0"/>
<rect x="1182" y="576" width="1" height="4" fill="#C0C0C0"/>
<rect x="1190" y="576" width="1" height="4" fill="#C0C0C0"/>
<rect x="1198" y="573" width="1" height="8" fill="#C0C0C0"/>
<rect x="1206" y="570" width="1" height="10" fill="#C0C0C0"/>
<rect x="1214" y="567" width="1" height="14" fill="#C0C0C0"/>
<rect x="1222" y="564" width="1" height="17" fill="#C0C0C0"/>
<rect x="1230" y="560" width="1" height="20" fill="#C0C0C0"/>
<rect x="1238" y="555" width="1" height="26" fill="#C0C0C0"/>
<rect x="1246" y="552" width="1" height="28" fill="#C0C0C0"/>
<rect x="1254" y="550" width="1" height="30" fill="#C0C0C0"/>
<rect x="1262" y="549" width="1" height="31" fill="#C0C0C0"/>
<rect x="1270" y="549" width="1" height="31" fill="#C0C0C0"/>
<rect x="1278" y="548" width="1" height="32" fill="#C0C0C0"/>
<rect x="1286" y="549" width="1" height="31" fill="#C0C0C0"/>
<rect x="1294" y="551" width="1" height="29" fill="#C0C0C0"/>
<rect x="1302" y="554" width="1" height="26" fill="#C0C0C0"/>
<rect x="1310" y="558" width="1" height="22" fill="#C0C0C0"/>
<rect x="1318" y="560" width="1" height="20" fill="#C0C0C0"/>
<rect x="1326" y="562" width="1" height="18" fill="#C0C0C0"/>
<rect x="1334" y="564" width="1" height="17" fill="#C0C0C0"/>
</g>
<polyline fill="none" stroke="#FF0000" stroke-width="1" points="6.5,577.5 14.5,573.75 22.5,571 30.5,569.5 38.5,567.5 46.5,566 54.5,565 62.5,563.75 70.5,563.25 87.5,563.25 110,563.25 118.5,564.5 135,564.25 150.5,563 158.5,560.75 166.5,560 174.5,558.75 182.5,555 190.5,552.5 198.5,551.25 206.5,549.25 214.5,546.75 222.5,545.5 230.5,544.5 238.5,544.5 246.5,543.25 254.5,544.25 262.5,544.5 270.5,545 278.5,547.5 286.5,549.25 294.5,551.25 302.5,553.25 310.5,556.25 318.5,558.75 326.5,561.25 334.5,563 342.5,565 350.5,567.5 358.5,569.5 366.5,571.25 374.5,573 382.5,574.5 390.5,576.75 398.5,579.25 406.5,580.5 414.5,582 422.5,584.25 430.5,585.75 438.5,588.25 446.5,589.5 454.5,591.25 462.5,592.5 470.5,592.5 478.5,593.75 486.5,592.5 494.5,591.75 502.5,588.75 510.5,586.25 518.5,583.75 526.5,581.25 534.5,578.75 542.5,576.25 550.5,574.25 558.5,572.5 566.5,571.75 574.5,571.5 582.5,572 590.5,573.25 598.5,574.5 606.5,575.75 614.5,577.5 622.5,580 630.5,581.25 638.5,582 646.5,583 654.5,583.25 662.5,583.25 670.5,583 678.5,582 686.5,581.75 694.5,581.25 702.5,580.5 710.5,580 718.5,579.5 726.5,578.25 734.5,577 742.5,576.25 750.5,575 758.5,573 766.5,571.25 774.5,568.25 782.5,566.25 790.5,564.25 798.5,562.5 806.5,561.25 814.5,561.25 822.5,561.25 830.5,562 838.5,563.75 846.5,566.25 854.5,569.25 862.5,572 870.5,574.25 878.5,577 886.5,580 894.5,582 902.5,583 910.5,584.25 918.5,585 926.5,585 934.5,585 942.5,584.25 950.5,584.25 958.5,584.25 966.5,585 974.5,585.5 982.5,586.75 990.5,587.5 998.5,588 1006.5,589.25 1014.5,590 1022.5,590.5 1030.5,591.25 1038.5,591.5 1046.5,591.75 1054.5,591.75 1062.5,592 1070.5,592.5 1078.5,592.75 1086.5,593 1094.5,593.25 1102.5,593 1110.5,593 1118.5,592 1126.5,590.75 1134.5,589.25 1142.5,588 1150.5,585.75 1158.5,584.25 1166.5,582 1174.5,580.75 1182.5,579.5 1190.5,578.25 1198.5,577 1206.5,575.5 1214.5,574.25 1222.5,572 1230.5,570.5 1238.5,567.5 1246.5,565.5 1254.5,562.5 1262.5,559.25 1270.5,556.25 1278.5,554.5 1286.5,552 1294.5,550.75 1302.5,550.5 1310.5,550.5 1318.5,551.75 1326.5,552 1334.5,554.25" stroke-dasharray="3 3" shape-rendering="crispEdges"/>
<g shape-rendering="crispEdges">
<line x1="6" y1="639.5" x2="1669" y2="639.5" stroke="#C0C0C0" stroke-width="1" stroke-dasharray="3 3"/>
<line x1="6" y1="690.5" x2="1669" y2="690.5" stroke="#C0C0C0" stroke-width="1" stroke-dasharray="3 3"/>
</g>
<polyline fill="none" stroke="#1E90FF" stroke-width="1.1" points="6.5,652.5 14.5,647.5 22.5,648.25 30.5,659.25 38.5,659.25 46.5,647.5 54.5,654.25 62.5,655.5 70.5,656.25 78.5,660.5 86.5,659.25 94.5,656.25 102.5,657.5 110.5,648.25 118.5,650.5 126.5,649.25 134.5,649.25 142.5,646.25 150.5,639.5 158.5,631.25 166.5,641.75 174.5,638 182.5,636.25 190.5,636.25 198.5,635 206.5,643.75 214.5,640 222.5,643 230.5,649.25 238.5,645 246.5,641.25 254.5,645 262.5,647.5 270.5,657.5 278.5,668.75 286.5,662 294.5,664.5 302.5,663 310.5,659.5 318.5,658.25 326.5,658.25 334.5,673.75 342.5,667.5 350.5,659.5 358.5,667.5 366.5,670.5 374.5,672.5 382.5,676.25 390.5,677.5 398.5,676.25 406.5,674.5 414.5,680 422.5,686.25 430.5,670 438.5,674.5 446.5,676.5 454.5,673.25 462.5,671.25 470.5,663.25 478.5,659.5 486.5,654.25 494.5,645.5 502.5,651.25 510.5,652.5 518.5,653.75 526.5,657.5 534.5,658.5 542.5,656.25 550.5,657.5 558.5,665.5 566.5,674.25 574.5,670 582.5,671.25 590.5,672.5 598.5,667.5 606.5,670.5 614.5,671.5 622.5,673.5 630.5,668.5 638.5,670 646.5,659.25 654.5,654.5 662.5,655.25 670.5,656.25 678.5,660 686.5,668.25 694.5,668.25 702.5,666.5 710.5,668.5 718.5,651.25 726.5,646.25 734.5,643.5 742.5,644.25 750.5,637.5 758.5,644.25 766.5,643.75 774.5,649.25 782.5,652.5 790.5,648.25 798.5,644.25 806.5,658.75 814.5,668.75 822.5,673.25 830.5,676.5 838.5,674.5 846.5,673.5 854.5,673.5 862.5,674.5 870.5,674.25 878.5,672.5 886.5,678.25 894.5,666.25 902.5,668.25 910.5,660 918.5,655.25 926.5,662 934.5,668.25 942.5,673.25 950.5,673.5 958.5,681.25 966.5,683.25 974.5,677.5 982.5,673.5 990.5,673.5 998.5,671.25 1006.5,669.25 1014.5,670 1022.5,672 1030.5,674.25 1038.5,684.25 1046.5,684.25 1054.5,677 1062.5,679.5 1070.5,677 1078.5,672.5 1086.5,676.25 1094.5,672.5 1102.5,667.5 1110.5,661.25 1118.5,658.25 1126.5,651.5 1134.5,656.25 1142.5,655.25 1150.5,657.5 1158.5,655.25 1166.5,655.25 1174.5,652.25 1182.5,655.25 1190.5,660.25 1198.5,641.25 1206.5,636.25 1214.5,639.25 1222.5,636.5 1230.5,627.25 1238.5,627.25 1246.5,626.25 1254.5,634.25 1262.5,634.25 1270.5,633 1278.5,631.25 1286.5,641.75 1294.5,646.25 1302.5,663 1310.5,659 1318.5,657.25 1326.5,656.25 1334.5,656.25" stroke-linejoin="round"/>
<g shape-rendering="crispEdges" fill="#000">
<rect x="1670" y="75" width="3" height="1" fill="#000"/>
<rect x="1670" y="124" width="3" height="1" fill="#000"/>
<rect x="1670" y="222" width="3" height="1" fill="#000"/>
<rect x="1670" y="271" width="3" height="1" fill="#000"/>
<rect x="1670" y="320" width="3" height="1" fill="#000"/>
<rect x="1670" y="369" width="3" height="1" fill="#000"/>
<rect x="1670" y="418" width="3" height="1" fill="#000"/>
<rect x="1670" y="467" width="3" height="1" fill="#000"/>
<rect x="1670" y="516" width="3" height="1" fill="#000"/>
<rect x="1670" y="580" width="2" height="1" fill="#000"/>
<rect x="1670" y="539" width="1" height="1" fill="#000"/>
<rect x="1670" y="639" width="2" height="1" fill="#000"/>
<rect x="1670" y="690" width="2" height="1" fill="#000"/>
<rect x="1670" y="727" width="2" height="1" fill="#000"/>
<rect x="1670" y="171" width="3" height="1" fill="#000"/>
<rect x="6" y="729" width="1" height="3" fill="#000"/>
<rect x="102" y="729" width="1" height="3" fill="#000"/>
<rect x="198" y="729" width="1" height="3" fill="#000"/>
<rect x="294" y="729" width="1" height="3" fill="#000"/>
<rect x="390" y="729" width="1" height="3" fill="#000"/>
<rect x="486" y="729" width="1" height="3" fill="#000"/>
<rect x="582" y="729" width="1" height="3" fill="#000"/>
<rect x="678" y="729" width="1" height="3" fill="#000"/>
<rect x="774" y="729" width="1" height="3" fill="#000"/>
<rect x="870" y="729" width="1" height="3" fill="#000"/>
<rect x="966" y="729" width="1" height="3" fill="#000"/>
<rect x="1062" y="729" width="1" height="3" fill="#000"/>
<rect x="1158" y="729" width="1" height="3" fill="#000"/>
<rect x="1254" y="729" width="1" height="3" fill="#000"/>
</g>
<g shape-rendering="crispEdges">
<rect x="8" y="64" width="285" height="78" fill="#FFFFFF"/>
<rect x="9" y="65" width="68" height="27" fill="url(#gs)"/>
<rect x="9" y="65" width="68" height="1" fill="#C00000"/>
<rect x="9" y="65" width="1" height="27" fill="#C00000"/>
<rect x="76" y="65" width="1" height="27" fill="#C00000"/>
<rect x="224" y="65" width="68" height="27" fill="url(#gs)"/>
<rect x="224" y="65" width="68" height="1" fill="#C00000"/>
<rect x="224" y="65" width="1" height="27" fill="#C00000"/>
<rect x="291" y="65" width="1" height="27" fill="#C00000"/>
<rect x="9" y="92" width="141" height="49" fill="url(#gb)"/>
<rect x="152" y="92" width="140" height="49" fill="url(#gb)"/>
<rect x="77" y="92" width="73" height="1" fill="#C00000"/>
<rect x="152" y="92" width="72" height="1" fill="#C00000"/>
<rect x="13" y="91" width="60" height="1" fill="#8B0000"/>
<rect x="13" y="92" width="60" height="1" fill="#F98080"/>
<rect x="228" y="91" width="60" height="1" fill="#8B0000"/>
<rect x="228" y="92" width="60" height="1" fill="#F98080"/>
<rect x="79.5" y="65.5" width="142" height="24" fill="#FFFFFF" stroke="#A5A7B4" stroke-width="1"/>
<rect x="80.5" y="66.5" width="22" height="22" fill="url(#gbtn)" stroke="#C4C4C8" stroke-width="1"/>
<rect x="198.5" y="66.5" width="22" height="22" fill="url(#gbtn)" stroke="#C4C4C8" stroke-width="1"/>
</g>
<path d="M87.5 76 L95.5 76 L91.5 80 Z" fill="#4455AA"/><path d="M205.5 79.5 L213.5 79.5 L209.5 75.5 Z" fill="#4455AA"/>
<path d="M9 55 L18 55 L13.5 50 Z" fill="#000"/>
</svg>
<div class="t " style="left:24px;top:46px;font-size:12.6px;color:#000;">CHINA300-,H4&nbsp; 4002.1 4009.6 3981.4 4002.6</div><div class="t " style="left:10px;top:542px;font-size:12.5px;color:#000;">MACD(12,26,9) 23.38 35.53</div><div class="t " style="left:10px;top:605px;font-size:12.5px;color:#000;">RSI(14) 56.9443</div><div class="t " style="left:1676px;top:69px;font-size:12.6px;color:#000;">4073.5</div><div class="t " style="left:1676px;top:118px;font-size:12.6px;color:#000;">4037.0</div><div class="t " style="left:1676px;top:216px;font-size:12.6px;color:#000;">3965.0</div><div class="t " style="left:1676px;top:265px;font-size:12.6px;color:#000;">3928.5</div><div class="t " style="left:1676px;top:314px;font-size:12.6px;color:#000;">3892.5</div><div class="t " style="left:1676px;top:363px;font-size:12.6px;color:#000;">3856.0</div><div class="t " style="left:1676px;top:412px;font-size:12.6px;color:#000;">3820.0</div><div class="t " style="left:1676px;top:461px;font-size:12.6px;color:#000;">3784.0</div><div class="t " style="left:1676px;top:510px;font-size:12.6px;color:#000;">3747.5</div><div class="t " style="left:1673px;top:540px;font-size:12.6px;color:#000;">56.46</div><div class="t " style="left:1673px;top:574px;font-size:12.6px;color:#000;">0.00</div><div class="t " style="left:1673px;top:584px;font-size:12.6px;color:#000;">-23.51</div><div class="t " style="left:1673px;top:603px;font-size:12.6px;color:#000;">100</div><div class="t " style="left:1673px;top:633px;font-size:12.6px;color:#000;">70</div><div class="t " style="left:1673px;top:684px;font-size:12.6px;color:#000;">30</div><div class="t " style="left:1673px;top:714px;font-size:12.6px;color:#000;">0</div><div class="t " style="left:5px;top:733px;font-size:12.6px;color:#000;letter-spacing:0.14px;">22 Aug 2019</div><div class="t " style="left:101px;top:733px;font-size:12.6px;color:#000;letter-spacing:0.14px;">30 Aug 05:00</div><div class="t " style="left:197px;top:733px;font-size:12.6px;color:#000;letter-spacing:0.14px;">9 Sep 05:00</div><div class="t " style="left:293px;top:733px;font-size:12.6px;color:#000;letter-spacing:0.14px;">18 Sep 05:00</div><div class="t " style="left:389px;top:733px;font-size:12.6px;color:#000;letter-spacing:0.14px;">26 Sep 05:00</div><div class="t " style="left:485px;top:733px;font-size:12.6px;color:#000;letter-spacing:0.14px;">11 Oct 05:00</div><div class="t " style="left:581px;top:733px;font-size:12.6px;color:#000;letter-spacing:0.14px;">21 Oct 05:00</div><div class="t " style="left:677px;top:733px;font-size:12.6px;color:#000;letter-spacing:0.14px;">29 Oct 05:00</div><div class="t " style="left:773px;top:733px;font-size:12.6px;color:#000;letter-spacing:0.14px;">6 Nov 05:00</div><div class="t " style="left:869px;top:733px;font-size:12.6px;color:#000;letter-spacing:0.14px;">14 Nov 05:00</div><div class="t " style="left:965px;top:733px;font-size:12.6px;color:#000;letter-spacing:0.14px;">22 Nov 05:00</div><div class="t " style="left:1061px;top:733px;font-size:12.6px;color:#000;letter-spacing:0.14px;">2 Dec 05:00</div><div class="t " style="left:1157px;top:733px;font-size:12.6px;color:#000;letter-spacing:0.14px;">10 Dec 05:00</div><div class="t " style="left:1253px;top:733px;font-size:12.6px;color:#000;letter-spacing:0.14px;">18 Dec 05:00</div><div class="b" style="top:121px;background:#FF0000">4035.0</div><div class="b" style="top:164px;background:#000000">4002.6</div><div class="b" style="top:189px;background:#00FF7F">3985.0</div><div class="b" style="top:272px;background:#0000FF">3924.0</div><div class="b" style="top:348px;background:#0000FF">3867.5</div><div class="t " style="left:197px;top:17px;font-size:12px;color:#4A4A4A;">M1</div><div class="t " style="left:231px;top:17px;font-size:12px;color:#4A4A4A;">M5</div><div class="t " style="left:263px;top:17px;font-size:12px;color:#4A4A4A;">M15</div><div class="t " style="left:297px;top:17px;font-size:12px;color:#4A4A4A;">M30</div><div class="t " style="left:335px;top:17px;font-size:12px;color:#4A4A4A;">H1</div><div class="t " style="left:367.5px;top:17px;font-size:12px;color:#4A4A4A;">H4</div><div class="t " style="left:403px;top:17px;font-size:12px;color:#4A4A4A;">D1</div><div class="t " style="left:436px;top:17px;font-size:12px;color:#4A4A4A;">W1</div><div class="t " style="left:468px;top:17px;font-size:12px;color:#4A4A4A;">MN</div><div class="t " style="left:77.2px;top:14.8px;font-size:14.8px;color:#5A5A5A;-webkit-text-stroke:0.4px #5A5A5A;">A</div><div class="t " style="left:17.3px;top:25.7px;font-size:9.5px;color:#5A5A5A;font-weight:bold;">E</div><div class="t " style="left:52px;top:25.2px;font-size:9.5px;color:#5A5A5A;font-weight:bold;">F</div><div class="t " style="left:9px;top:70px;font-size:14.5px;color:#fff;width:67px;text-align:center;">SELL</div><div class="t " style="left:225px;top:70px;font-size:14.5px;color:#fff;width:67px;text-align:center;">BUY</div><div class="t " style="left:102px;top:69px;font-size:15px;color:#000;width:91px;text-align:right;">1.00</div><div class="t " style="left:38.8px;top:116px;font-size:15px;color:#fff;font-weight:bold;letter-spacing:0.5px;">4001</div><div class="t " style="left:180.8px;top:116px;font-size:15px;color:#fff;font-weight:bold;letter-spacing:0.5px;">4006</div><div class="t " style="left:78.5px;top:94px;font-size:40px;color:#fff;font-weight:bold;font-family:'Liberation Serif',serif;">.</div><div class="t " style="left:222px;top:94px;font-size:40px;color:#fff;font-weight:bold;font-family:'Liberation Serif',serif;">.</div><div class="t " style="left:88px;top:93px;font-size:40px;color:#fff;">1</div><div class="t " style="left:230.7px;top:93px;font-size:40px;color:#fff;">7</div><div class="t" style="left:1229.7px;top:431.3px;font-size:50.4px;color:#FF1E0A;transform:scaleY(1.05);transform-origin:50% 47%;font-family:'Liberation Sans','Noto Sans CJK SC',sans-serif;">多空转折点<span style="font-size:50.8px;position:relative;top:-2px;left:1px">3985</span></div>
</body></html>
